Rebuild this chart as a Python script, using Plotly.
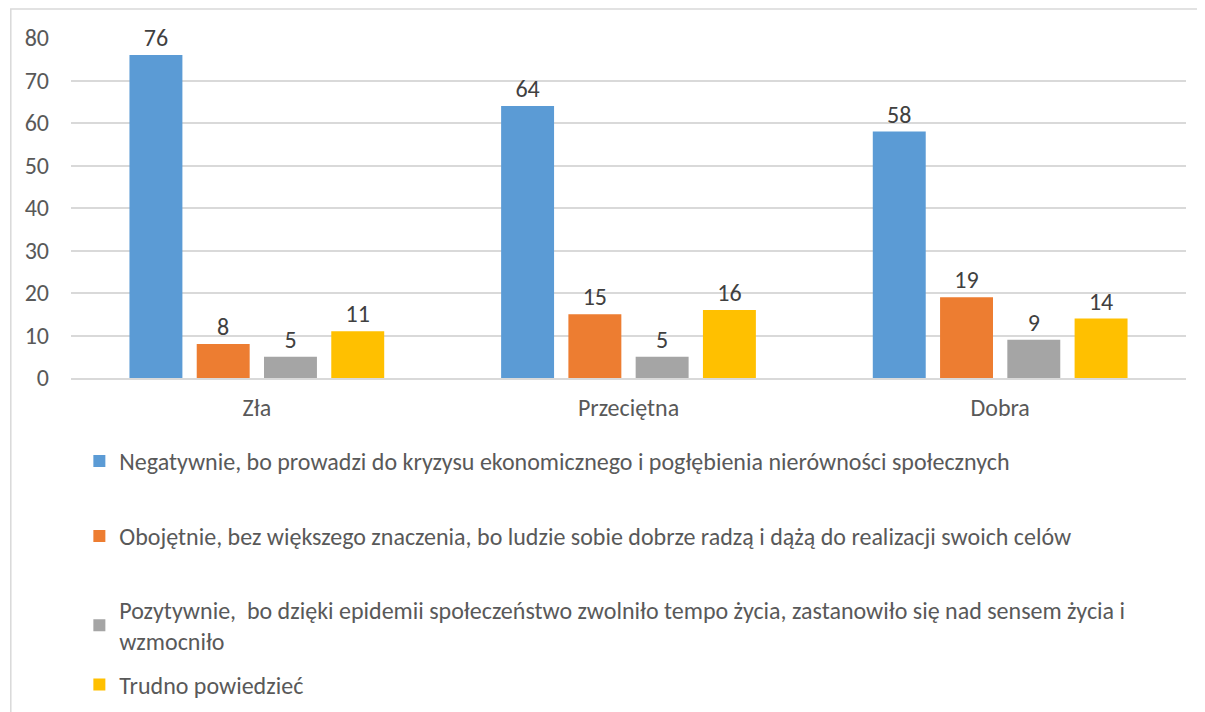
import plotly.graph_objects as go

categories = ["Zła", "Przeciętna", "Dobra"]
series_names = [
    "Negatywnie, bo prowadzi do kryzysu ekonomicznego i pogłębienia nierówności społecznych",
    "Obojętnie, bez większego znaczenia, bo ludzie sobie dobrze radzą i dążą do realizacji swoich celów",
    "Pozytywnie,  bo dzięki epidemii społeczeństwo zwolniło tempo życia, zastanowiło się nad sensem życia i<br>wzmocniło",
    "Trudno powiedzieć",
]
negatywnie = [76, 64, 58]
obojetnie = [8, 15, 19]
pozytywnie = [5, 5, 9]
trudno = [11, 16, 14]
values = [negatywnie, obojetnie, pozytywnie, trudno]
colors = ["#5B9BD5", "#ED7D31", "#A5A5A5", "#FFC000"]

FONT = "Carlito, Open Sans, sans-serif"
FS = 24

fig = go.Figure()
legend_ids = ["legend", "legend2", "legend3", "legend4"]
for name, vals, col, lg in zip(series_names, values, colors, legend_ids):
    fig.add_trace(go.Bar(
        x=categories, y=vals, name=name, marker_color=col, marker_line_width=0,
        text=vals, textposition="outside", cliponaxis=False,
        textfont=dict(family=FONT, size=FS, color="#404040"),
        legend=lg,
    ))

# legend rows positioned like the original (one legend per series)
legend_y = [-0.245, -0.466, -0.728, -0.903]
legend_cfg = {}
for lg, ly in zip(legend_ids, legend_y):
    legend_cfg[lg] = dict(
        x=0.0075, y=ly, xanchor="left", yanchor="middle",
        font=dict(family=FONT, size=FS, color="#595959"),
        bgcolor="rgba(0,0,0,0)", itemwidth=30,
    )

# the page body adds an 8px offset, margins compensate for it
fig.update_layout(
    width=1205, height=712,
    margin=dict(l=63, r=27, t=30, b=342, autoexpand=False),
    paper_bgcolor="white", plot_bgcolor="white",
    barmode="group", bargap=0.276, bargroupgap=0.213,
    font=dict(family=FONT, color="#595959"),
    showlegend=True,
    **legend_cfg,
)
fig.update_xaxes(
    showgrid=False, showline=True, linecolor="#D9D9D9", linewidth=1.5,
    ticks="", ticklabelstandoff=7,
    tickfont=dict(family=FONT, size=FS, color="#595959"),
)
fig.update_yaxes(
    range=[0, 80], dtick=10, showgrid=True, gridcolor="#D9D9D9", gridwidth=1.5,
    zeroline=False, showline=False, ticks="", ticklabelstandoff=21,
    tickfont=dict(family=FONT, size=FS, color="#595959"),
)

# outer chart border
fig.add_shape(type="rect", xref="paper", yref="paper",
              x0=-0.054, x1=1.05, y0=-1.2, y1=1.085,
              line=dict(color="#D9D9D9", width=1.5), layer="below")

fig.write_html("out.html")
